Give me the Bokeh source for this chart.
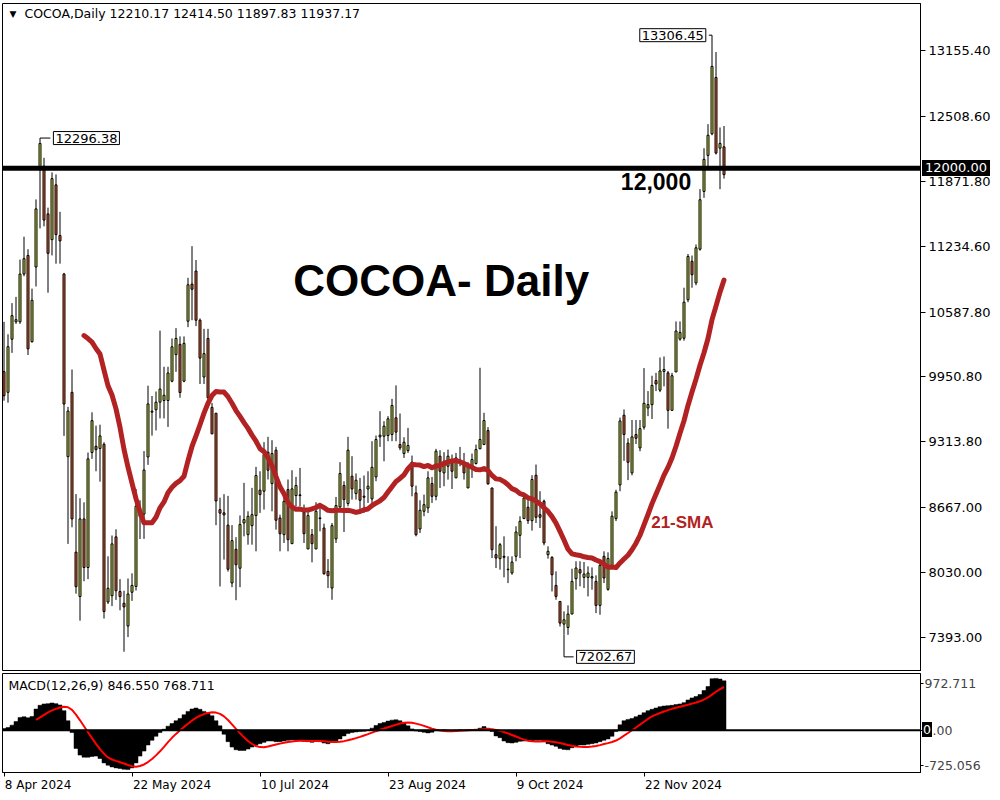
import pandas as pd
from bokeh.plotting import figure
from bokeh.layouts import column
from bokeh.models import (Range1d, FixedTicker, PrintfTickFormatter, Span, Label,
                          LinearAxis, Div)
from bokeh.embed import file_html
from bokeh.resources import INLINE

# ---------------- data ----------------
opens = [10003, 9800, 10321, 10492, 10492, 10961, 11144, 10297, 11030, 12008,
         12020, 11552, 11299, 11837, 11340, 10961, 9168, 9800, 8231, 7795,
         8557, 8080, 9209, 9270, 9249, 9290, 7742, 7803, 8381, 7844,
         7729, 7505, 7837, 7894, 8580, 8604, 9165, 9605, 9629, 9703,
         9720, 9720, 9909, 10170, 10271, 9909, 10498, 10863, 10991, 10508,
         9950, 10329, 9652, 9595, 8648, 8617, 8496, 7928, 8259, 8073,
         8517, 8403, 8491, 8590, 8839, 8829, 9212, 8904, 9232, 8567,
         8403, 8845, 8314, 8786, 8793, 8622, 8262, 8403, 8262, 8567,
         8468, 8042, 7878, 8360, 8675, 8885, 8708, 8976, 8806, 8845,
         8770, 8851, 8753, 8969, 9363, 9369, 9376, 9386, 9550, 9287,
         9199, 9228, 9114, 8812, 8458, 8632, 8665, 8904, 8779, 9173,
         9009, 9074, 9140, 8960, 9133, 9091, 8861, 9058, 9101, 9245,
         9287, 9425, 8861, 8206, 8167, 8190, 8058, 8026, 8190, 8396,
         8560, 8672, 8540, 8986, 8599, 8731, 8206, 8180, 7904, 7747,
         7524, 7491, 7623, 7970, 8059, 7983, 7983, 7977, 7944, 7708,
         8190, 7866, 8088, 8560, 8891, 9575, 9301, 9009, 9386, 9254,
         9457, 9646, 9679, 9915, 9821, 10005, 9991, 9623, 10000, 10322,
         10331, 10709, 11087, 10874, 11205, 11772, 12126, 12338, 12891, 12197,
         12210.17]
highs = [10492, 10370, 10676, 10737, 11103, 11328, 11205, 10818, 11694, 12253,
         12102, 11613, 11959, 11939, 11572, 10973, 9657, 10024, 8801, 8760,
         8720, 9209, 9604, 9473, 9482, 9310, 8190, 8394, 8455, 7966,
         7852, 7972, 8023, 8851, 8740, 9223, 9865, 9764, 9808, 10406,
         10051, 10051, 10329, 10430, 10349, 10349, 10924, 11235, 11099, 10525,
         10423, 10423, 9696, 9595, 8766, 8800, 8783, 8496, 8378, 8591,
         8911, 8632, 8862, 9068, 9025, 9311, 9363, 9330, 9265, 8599,
         8796, 8944, 9035, 8970, 9058, 8698, 8649, 8458, 8721, 8714,
         8511, 8163, 8517, 8773, 9114, 8927, 9363, 9173, 9003, 8960,
         8983, 9025, 9320, 9376, 9615, 9517, 9566, 9736, 9868, 9592,
         9359, 9451, 9179, 8884, 8740, 8796, 9025, 8969, 9245, 9232,
         9212, 9238, 9189, 9205, 9264, 9205, 9114, 9199, 9287, 10041,
         9599, 9458, 8861, 8485, 8321, 8386, 8190, 8190, 8485, 8583,
         8796, 8770, 8986, 9091, 8829, 8747, 8288, 8190, 8042, 7747,
         7649, 7708, 8068, 8141, 8141, 8134, 8091, 8081, 8003, 8124,
         8239, 8229, 8631, 8843, 9552, 9632, 9349, 9528, 9528, 9528,
         10038, 9812, 9963, 9991, 10142, 10152, 10010, 9991, 10496, 10496,
         10827, 11158, 11143, 11252, 11795, 12197, 12433, 13000, 13141, 12400,
         12414.50]
lows = [9718, 9698, 10187, 10472, 10472, 10940, 10166, 10288, 10839, 11409,
        11429, 10778, 11144, 11063, 11063, 9372, 8312, 8475, 7823, 7558,
        7945, 7966, 9147, 9025, 8923, 7579, 7721, 7701, 7762, 7660,
        7253, 7397, 7752, 7854, 8360, 8361, 9088, 9375, 9426, 9544,
        9544, 9460, 9899, 10001, 9747, 9899, 10440, 10508, 10450, 9882,
        9882, 9696, 9392, 8496, 7894, 8158, 8040, 7887, 7759, 7887,
        8386, 8304, 8304, 8239, 8616, 8649, 8944, 8632, 8452, 8239,
        8321, 8239, 8314, 8681, 8681, 8321, 8262, 8131, 8262, 8435,
        8009, 7878, 7763, 8321, 8632, 8429, 8681, 8747, 8747, 8655,
        8616, 8714, 8714, 8927, 9264, 9123, 9320, 9320, 9320, 9232,
        9156, 9205, 8779, 8386, 8419, 8583, 8615, 8714, 8740, 8861,
        8878, 8943, 8851, 8960, 9074, 8943, 8861, 8960, 9091, 9245,
        9287, 8894, 8173, 8075, 8059, 7983, 7927, 8009, 8141, 8173,
        8560, 8508, 8442, 8517, 8468, 8298, 8167, 7845, 7764, 7501,
        7420, 7419, 7623, 7862, 7895, 7878, 7796, 7862, 7632, 7616,
        7927, 7852, 8088, 8536, 8829, 9127, 8938, 8985, 9292, 9221,
        9434, 9566, 9538, 9812, 9802, 9859, 9443, 9623, 10000, 10307,
        10307, 10685, 10827, 10851, 11191, 11710, 11984, 12324, 12135, 11795,
        11897.83]
closes = [9767, 10248, 10553, 10513, 10961, 11112, 10227, 10704, 11601, 12244,
          11491, 11165, 11898, 11348, 11287, 9685, 9616, 8557, 7892, 8557,
          8080, 9147, 9522, 9237, 9372, 7648, 7876, 8312, 7852, 7795,
          7693, 7820, 7904, 8682, 8620, 9037, 9686, 9615, 9703, 9832,
          9771, 9990, 10247, 10329, 9798, 10281, 10856, 10812, 10508, 10136,
          10180, 9747, 9392, 8733, 8614, 8597, 8063, 8344, 8107, 8503,
          8550, 8583, 8599, 8983, 8796, 9189, 9035, 9199, 8544, 8412,
          8730, 8353, 8852, 8885, 8786, 8412, 8590, 8314, 8632, 8560,
          8019, 7999, 8491, 8688, 9003, 8747, 9232, 8852, 8937, 8740,
          8780, 8878, 9064, 9337, 9379, 9468, 9540, 9671, 9409, 9255,
          9310, 9278, 8878, 8402, 8642, 8697, 8960, 8779, 9222, 9025,
          9123, 9173, 9025, 9156, 9101, 9009, 9074, 9140, 9238, 9337,
          9523, 8901, 8255, 8173, 8304, 8180, 8063, 8134, 8429, 8534,
          8763, 8540, 8944, 8573, 8573, 8321, 8239, 8009, 7796, 7534,
          7567, 7623, 7944, 8075, 8026, 8016, 8026, 7990, 7708, 8101,
          7977, 8168, 8584, 8820, 9519, 9386, 9113, 9363, 9349, 9443,
          9693, 9679, 9868, 9882, 10010, 10024, 9623, 9963, 10402, 10388,
          10685, 11134, 10955, 11219, 11691, 12088, 12324, 13000, 12149, 12244,
          11937.17]
macd_main = [29, 46, 87, 150, 219, 231, 213, 237, 363, 427,
             450, 456, 467, 456, 433, 335, 162, -40, -312, -427,
             -462, -462, -450, -444, -485, -560, -600, -629, -646, -658,
             -669, -675, -646, -560, -444, -358, -254, -173, -104, -40,
             17, 69, 115, 162, 202, 265, 323, 364, 381, 358,
             323, 294, 248, 162, 75, -69, -196, -289, -335, -346,
             -346, -323, -289, -254, -231, -208, -185, -185, -196, -196,
             -185, -173, -167, -173, -179, -190, -196, -208, -190, -196,
             -219, -231, -208, -185, -150, -98, -58, -40, -29, -23,
             -17, 0, 35, 81, 115, 133, 156, 173, 179, 162,
             127, 75, 23, -12, -23, -35, -46, -35, -6, 0,
             6, 0, -6, 0, 6, 0, 6, 12, 17, 35,
             63, 35, -23, -98, -127, -185, -213, -219, -208, -190,
             -185, -185, -179, -173, -173, -196, -231, -254, -277, -312,
             -329, -335, -300, -271, -254, -254, -242, -231, -219, -196,
             -173, -150, -104, -23, 92, 162, 185, 202, 231, 260,
             300, 335, 358, 381, 404, 415, 421, 427, 439, 450,
             473, 519, 554, 577, 612, 681, 750, 883, 889, 877,
             846.55]
macd_header = [846.550, 768.711]
macd_axis_values = [972.711, 0.0, -725.056]

price_ticks = [13155.40, 12508.60, 11871.80, 11234.60, 10587.80,
               9950.80, 9313.80, 8667.00, 8030.00, 7393.00]
date_tick_bars = [0, 32, 64, 96, 128, 160]
date_tick_labels = ["8 Apr 2024", "22 May 2024", "10 Jul 2024",
                    "23 Aug 2024", "9 Oct 2024", "22 Nov 2024"]
level_price = 12000.0
mark_values = [12296.38, 13306.45, 7202.67]
mark_bars = [9, 177, 140]
symbol = "COCOA,Daily"

# ---------------- layout ----------------
LB = 2
FRAME_W = 918
RB = 78
W = LB + FRAME_W + RB
BAR_PX = 4.0
X0 = -0.375
X1 = X0 + FRAME_W / BAR_PX
P1_TOP = 3
P1_H = 671
P2_TOP = 2
P2_FRAME = 99
P2_BOT = 27
P2_H = P2_TOP + P2_FRAME + P2_BOT
PRICE_LO, PRICE_HI = 7059.0, 13617.5
MACD_LO, MACD_HI = -725.056, 972.711
FONT = "DejaVu Sans"
BULL = "#C8DA2E"
BEAR = "#EC5A24"
SMA_C = "#B22222"
date_label_px = [66, 78, 68, 77, 66, 77]   # rendered width of each date label

n = len(closes)
idx = list(range(n))
px = 1.0 / BAR_PX  # one pixel in bar units
ppx = (PRICE_HI - PRICE_LO) / (P1_H - P1_TOP)
mpx = (MACD_HI - MACD_LO) / P2_FRAME

sma = pd.Series(closes).rolling(21).mean()
signal = pd.Series(macd_main).rolling(9).mean()

p1 = figure(width=W, height=P1_H, x_range=Range1d(X0, X1),
            y_range=Range1d(PRICE_LO, PRICE_HI), output_backend="svg",
            toolbar_location=None, x_axis_location=None, y_axis_location="right",
            min_border_left=LB, min_border_right=RB, min_border_top=P1_TOP,
            min_border_bottom=0, background_fill_color="white",
            border_fill_color="white")
p1.grid.visible = False
p1.outline_line_color = "black"
p1.outline_line_alpha = 1.0
p1.outline_line_width = 1
ya = p1.yaxis[0]
ya.ticker = FixedTicker(ticks=price_ticks)
ya.formatter = PrintfTickFormatter(format="%.2f")
ya.major_tick_out = 5
ya.major_tick_in = 0
ya.minor_tick_line_color = None
ya.axis_line_color = "black"
ya.major_tick_line_color = "black"
ya.major_label_standoff = 3
ya.major_label_text_font = FONT
ya.major_label_text_font_size = "13px"
ya.major_label_text_color = "black"

# candles
p1.segment(x0=idx, y0=lows, x1=idx, y1=highs, line_color="black", line_width=1)
tops = [max(o, c) for o, c in zip(opens, closes)]
bots = [min(o, c) for o, c in zip(opens, closes)]
cols = [BULL if c >= o else BEAR for o, c in zip(opens, closes)]
p1.vbar(x=idx, width=0.5, top=tops, bottom=bots, fill_color=cols,
        line_color="black", line_width=1)

# 21-SMA
p1.line(x=idx[20:], y=list(sma[20:]), line_color=SMA_C, line_width=5,
        line_join="round", line_cap="round")

# 12,000 level
p1.add_layout(Span(location=level_price, dimension="width", line_color="black",
                   line_width=5))

# leader lines for high/low marks
hx0, hy0, hx1, hy1 = [], [], [], []
ext = [highs[mark_bars[0]], highs[mark_bars[1]], lows[mark_bars[2]]]
box_edge = [mark_bars[0] + 2.6, mark_bars[1] - 0.8, mark_bars[2] + 2.4]
for b, v, e, be in zip(mark_bars, mark_values, ext, box_edge):
    hx0 += [b, b]
    hy0 += [e, v]
    hx1 += [b, be]
    hy1 += [v, v]
p1.segment(x0=hx0, y0=hy0, x1=hx1, y1=hy1, line_color="black", line_width=1)
aligns = ["left", "right", "left"]
for v, be, al in zip(mark_values, box_edge, aligns):
    off = 3 * px if al == "left" else -3 * px
    p1.add_layout(Label(x=be + off, y=v, text=f"{v:.2f}", text_align=al,
                        text_baseline="middle", text_font=FONT,
                        text_font_size="13px", text_color="black",
                        background_fill_color="white", border_line_color="black",
                        border_line_width=1, padding=2))

# header
hy = PRICE_HI - 10 * ppx
p1.add_layout(Label(x=X0 + 7 * px, y=hy, text="\u25BC",
                    text_font=FONT, text_font_size="9px", text_baseline="middle",
                    text_color="black"))
hdr = f"{symbol}  {opens[-1]:.2f} {highs[-1]:.2f} {lows[-1]:.2f} {closes[-1]:.2f}"
p1.add_layout(Label(x=X0 + 22 * px, y=hy, text=hdr,
                    text_font=FONT, text_font_size="12.5px",
                    text_baseline="middle", text_color="black"))

# titles / annotations
p1.add_layout(Label(x=109.3, y=10894, text="COCOA- Daily", text_align="center",
                    text_baseline="middle", text_font="Liberation Sans",
                    text_font_style="bold", text_font_size="44px",
                    text_color="black"))
p1.add_layout(Label(x=171.8, y=11867, text="12,000", text_align="right",
                    text_baseline="middle", text_font="Liberation Sans",
                    text_font_style="bold", text_font_size="23px",
                    text_color="black"))
p1.add_layout(Label(x=161.8, y=8524, text="21-SMA", text_align="left",
                    text_baseline="middle", text_font="Liberation Sans",
                    text_font_style="bold", text_font_size="17px",
                    text_color=SMA_C))

# ---------------- MACD panel ----------------
p2 = figure(width=W, height=P2_H, x_range=p1.x_range,
            y_range=Range1d(MACD_LO, MACD_HI), output_backend="svg",
            toolbar_location=None, y_axis_location="right",
            x_axis_location="below", min_border_left=LB, min_border_right=RB,
            min_border_top=P2_TOP, min_border_bottom=P2_BOT,
            background_fill_color="white", border_fill_color="white")
p2.grid.visible = False
p2.outline_line_color = "black"
p2.outline_line_alpha = 1.0
p2.vbar(x=idx, width=1.0, top=macd_main, bottom=0, fill_color="black",
        line_color="black", line_width=0.5)
p2.line(x=idx[8:], y=list(signal[8:]), line_color="#FF0000", line_width=2)
p2.add_layout(Span(location=0, dimension="width", line_color="black",
                   line_width=2))

t_top = int(round(MACD_HI - 10 * mpx))
t_bot = int(round(MACD_LO + 7 * mpx))
ya2 = p2.yaxis[0]
ya2.ticker = FixedTicker(ticks=[t_top, 0, t_bot])
ya2.major_label_overrides = {t_top: f"{macd_axis_values[0]:.3f}",
                             0: f"{macd_axis_values[1]:.2f}",
                             t_bot: f"{macd_axis_values[2]:.3f}"}
ya2.major_tick_out = 3
ya2.major_tick_in = 0
ya2.minor_tick_line_color = None
ya2.axis_line_color = "black"
ya2.major_label_standoff = 1
ya2.major_label_text_font = FONT
ya2.major_label_text_font_size = "12.5px"

# date axis: tick marks at the bars, labels starting at the tick (MT4 style)
xa2 = p2.xaxis[0]
xa2.ticker = FixedTicker(ticks=date_tick_bars)
xa2.major_label_overrides = {b: "" for b in date_tick_bars}
xa2.major_label_text_font_size = "1px"
xa2.major_label_standoff = 0
xa2.major_tick_out = 4
xa2.major_tick_in = 0
xa2.minor_tick_line_color = None
xa2.axis_line_color = "black"
centers = [b + (w / 2 + 1) * px for b, w in zip(date_tick_bars, date_label_px)]
xa3 = LinearAxis(ticker=FixedTicker(ticks=centers),
                 major_label_overrides=dict(zip(centers, date_tick_labels)),
                 major_tick_out=0, major_tick_in=0, minor_tick_line_color=None,
                 axis_line_color=None, major_label_standoff=1,
                 major_label_text_font=FONT, major_label_text_font_size="12px",
                 major_label_text_color="black")
p2.add_layout(xa3, "below")

p2.add_layout(Label(x=X0 + 6 * px, y=MACD_HI - 12 * mpx,
                    text=f"MACD(12,26,9) {macd_header[0]:.3f} {macd_header[1]:.3f}",
                    text_font=FONT, text_font_size="12.5px",
                    text_baseline="middle", text_color="black"))

# price boxes sitting on the value axes (drawn over the axis area)
lvl_sy = P1_TOP + (PRICE_HI - level_price) / (PRICE_HI - PRICE_LO) * (P1_H - P1_TOP)
zero_sy = P1_H + P2_TOP + (MACD_HI - 0.0) / (MACD_HI - MACD_LO) * P2_FRAME


def axis_box(text, left, center_y, size, height, pad):
    return Div(text=text, margin=0, styles={
        "position": "absolute", "left": f"{left}px",
        "top": f"{center_y - height / 2:.1f}px", "margin": "0px",
        "background-color": "black", "color": "white", "font-family": FONT,
        "font-size": size, "line-height": f"{height}px",
        "padding": f"0px {pad}px", "white-space": "nowrap", "z-index": "10"})


box_level = axis_box(f"{level_price:.2f}", LB + FRAME_W + 2, lvl_sy, "13px", 16, 3)
box_zero = axis_box("0", LB + FRAME_W + 2, zero_sy, "12.5px", 15, 1)

layout = column(p1, p2, box_level, box_zero)
open("out.html", "w").write(file_html(layout, INLINE))
